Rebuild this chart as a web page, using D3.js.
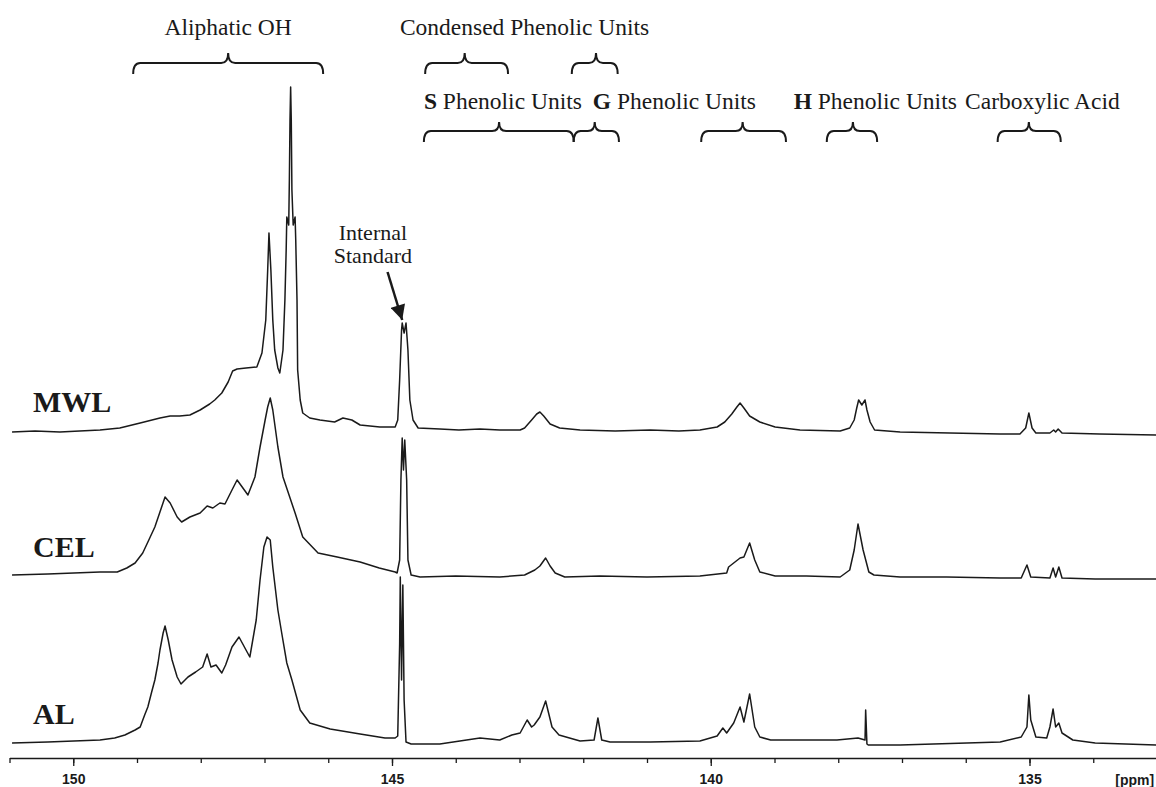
<!DOCTYPE html>
<html>
<head>
<meta charset="utf-8">
<script src="https://cdn.jsdelivr.net/npm/d3@7/dist/d3.min.js"></script>
<style>
  body { margin: 0; background: #fff; }
  svg { display: block; }
</style>
</head>
<body>
<div id="svg-container"></div>
<script>
// Spectrum traces: [ppm, intensity above the trace's own baseline]
var mwlData = [
  [150.96, 0], [150.60, 1], [150.21, 0], [149.90, 1], [149.58, 2], [149.27, 4], [148.95, 9],
  [148.64, 14], [148.48, 16], [148.33, 16], [148.17, 17], [148.01, 22], [147.86, 28],
  [147.78, 32], [147.67, 39], [147.57, 50], [147.50, 61], [147.43, 63], [147.29, 64],
  [147.12, 65], [147.04, 79], [146.98, 112],
  [146.95, 162], [146.93, 199], [146.90, 162], [146.87, 112], [146.84, 82], [146.79, 64],
  [146.76, 59], [146.71, 82], [146.68, 132], [146.66, 182], [146.65, 215], [146.62, 207],
  [146.61, 252], [146.60, 312], [146.59, 345], [146.58, 312], [146.57, 242], [146.55, 207],
  [146.52, 215], [146.51, 192], [146.49, 132], [146.48, 62], [146.44, 32], [146.40, 19],
  [146.29, 14], [146.13, 12], [145.90, 10], [145.77, 14], [145.63, 12], [145.50, 7],
  [145.19, 5], [144.95, 5], [144.91, 12], [144.88, 52], [144.85, 102], [144.84, 109],
  [144.81, 99], [144.78, 109], [144.75, 82], [144.72, 32], [144.67, 12], [144.59, 4],
  [144.25, 3], [143.95, 2], [143.62, 3], [143.31, 2], [142.99, 2], [142.92, 4], [142.81, 12],
  [142.73, 18], [142.68, 20], [142.62, 16], [142.52, 8], [142.37, 4], [142.05, 2],
  [141.50, 1], [140.95, 2], [140.50, 1], [140.17, 2], [139.90, 5], [139.78, 10], [139.67, 18],
  [139.59, 25], [139.54, 29], [139.48, 24], [139.39, 16], [139.23, 10], [138.99, 5],
  [138.60, 2], [137.97, 1], [137.82, 4], [137.75, 12], [137.71, 24], [137.68, 32],
  [137.63, 27], [137.58, 32], [137.55, 22], [137.50, 10], [137.43, 2], [137.03, 0],
  [136.25, -1], [135.46, -2], [135.15, -2], [135.06, 4], [135.01, 19], [134.96, 4],
  [134.90, -1], [134.68, -1], [134.62, 2], [134.59, 0], [134.55, 3], [134.49, -1],
  [133.90, -2], [133.00, -3]
];

var celData = [
  [150.96, 2], [150.40, 3], [149.58, 5], [149.31, 5], [149.16, 9], [149.03, 14],
  [148.91, 24], [148.80, 39], [148.72, 50], [148.64, 65], [148.56, 80], [148.48, 74],
  [148.37, 60], [148.30, 55], [148.17, 60], [148.01, 64], [147.90, 71], [147.81, 69],
  [147.70, 74], [147.62, 73], [147.51, 87], [147.43, 97], [147.35, 90], [147.26, 82],
  [147.15, 100], [147.07, 130], [146.99, 157], [146.95, 170], [146.91, 179], [146.87, 167],
  [146.79, 130], [146.71, 100], [146.52, 64], [146.40, 40], [146.16, 24], [145.86, 20],
  [145.50, 15], [145.20, 9], [144.95, 5], [144.92, 4], [144.88, 17], [144.86, 97],
  [144.84, 139], [144.82, 107], [144.80, 137], [144.77, 97], [144.75, 17], [144.70, 2],
  [144.56, 0], [144.00, 1], [143.31, 0], [142.92, 2], [142.76, 7], [142.68, 11],
  [142.59, 19], [142.52, 11], [142.44, 4], [142.29, 0], [141.74, 1], [141.00, 0],
  [140.17, 1], [139.75, 4], [139.72, 10], [139.54, 19], [139.48, 20], [139.39, 34],
  [139.31, 17], [139.23, 5], [138.99, 1], [138.50, 1], [137.97, 0], [137.82, 7],
  [137.75, 27], [137.69, 53], [137.61, 27], [137.52, 5], [137.44, 2], [137.03, 0],
  [136.30, 0], [135.46, -1], [135.13, -1], [135.04, 12], [134.98, 0], [134.68, -1],
  [134.63, 9], [134.59, 0], [134.54, 10], [134.49, -1], [133.97, -2], [133.00, -2]
];

var alData = [
  [150.96, 1], [150.40, 2], [149.58, 4], [149.35, 6], [149.19, 9], [149.03, 14],
  [148.95, 17], [148.88, 29], [148.83, 37], [148.77, 52], [148.72, 64], [148.67, 81],
  [148.64, 94], [148.59, 111], [148.56, 118], [148.51, 104], [148.45, 84], [148.37, 67],
  [148.31, 60], [148.20, 67], [148.08, 72], [147.97, 77], [147.90, 90], [147.84, 77],
  [147.76, 79], [147.67, 71], [147.61, 79], [147.51, 97], [147.40, 107], [147.29, 94],
  [147.23, 87], [147.13, 124], [147.07, 164], [147.01, 197], [146.96, 207], [146.91, 204],
  [146.87, 177], [146.79, 134], [146.73, 111], [146.65, 81], [146.57, 64], [146.44, 34],
  [146.29, 21], [145.97, 15], [145.50, 10], [145.11, 6], [144.95, 6], [144.91, 8],
  [144.88, 100], [144.87, 167], [144.85, 64], [144.83, 159], [144.81, 44], [144.78, 2],
  [144.70, 0], [144.25, 0], [143.62, 6], [143.31, 4], [143.12, 9], [142.99, 11],
  [142.88, 24], [142.81, 17], [142.77, 19], [142.68, 27], [142.59, 43], [142.49, 17],
  [142.38, 9], [142.05, 3], [141.83, 4], [141.77, 26], [141.71, 4], [141.58, 2],
  [140.95, 2], [140.17, 3], [139.90, 8], [139.81, 16], [139.75, 11], [139.64, 21],
  [139.54, 37], [139.48, 22], [139.39, 50], [139.31, 17], [139.23, 7], [139.06, 4],
  [138.02, 4], [137.69, 6], [137.58, 4], [137.57, 34], [137.55, 0], [137.53, -1],
  [137.03, -1], [135.46, 2], [135.13, 7], [135.04, 17], [135.01, 49], [134.98, 24],
  [134.90, 7], [134.73, 6], [134.68, 17], [134.63, 35], [134.59, 17], [134.54, 21],
  [134.49, 11], [134.32, 4], [133.97, 1], [133.00, -1]
];

// Trace names and vertical offsets (intensity units)
var traceNames = ["MWL", "CEL", "AL"];
var traceOffsets = [326, 181, 14];

// Axis ticks
var majorTicks = [150, 145, 140, 135];
var minorTicks = d3.range(133, 152, 1);

// Region braces: [from ppm, to ppm, tip ppm]
var upperBraces = [[149.06, 146.08, 147.57], [144.48, 143.18, 143.86], [142.18, 141.46, 141.80]];
var lowerBraces = [[144.50, 142.15, 143.32], [142.15, 141.44, 141.82], [140.15, 138.82, 139.50],
                   [138.18, 137.39, 137.77], [135.50, 134.51, 135.01]];

// Region labels: [bold letter, text, anchor ppm]
var upperLabels = [["", "Aliphatic OH", 147.57], ["", "Condensed Phenolic Units", 142.92]];
var lowerLabels = [["S", " Phenolic Units", 144.50], ["G", " Phenolic Units", 141.85],
                   ["H", " Phenolic Units", 138.70], ["", "Carboxylic Acid", 136.01]];

var width = 1156, height = 787;

var x = d3.scaleLinear().domain([151, 133]).range([9.5, 1157]);
var y = d3.scaleLinear().domain([0, 700]).range([758, 58]);

var svg = d3.select("#svg-container").append("svg")
    .attr("width", width)
    .attr("height", height);

var serif = "'Liberation Serif', 'Times New Roman', serif";
var sans = "'Liberation Sans', Arial, sans-serif";
var ink = "#1a1a1a";

// --------------------------------------------------
// Traces
// --------------------------------------------------
var traces = [mwlData, celData, alData];
traces.forEach(function(data, i) {
    var line = d3.line()
        .x(function(d) { return x(d[0]); })
        .y(function(d) { return y(d[1] + traceOffsets[i]); });
    svg.append("path")
        .datum(data)
        .attr("d", line)
        .attr("fill", "none")
        .attr("stroke", ink)
        .attr("stroke-width", 1.5)
        .attr("stroke-linejoin", "round");

    svg.append("text")
        .attr("x", 33)
        .attr("y", y(traceOffsets[i]) - 20)
        .style("font-family", serif)
        .style("font-weight", "bold")
        .style("font-size", "30px")
        .style("fill", ink)
        .text(traceNames[i]);
});

// --------------------------------------------------
// Axis
// --------------------------------------------------
var axisG = svg.append("g").attr("transform", "translate(0," + y(0) + ")");
axisG.call(d3.axisBottom(x).tickValues(minorTicks).tickSize(5).tickSizeOuter(0).tickFormat(""));
axisG.select(".domain").attr("stroke", ink).attr("stroke-width", 1.6);
axisG.selectAll(".tick line").attr("stroke", ink).attr("stroke-width", 1.3);

var majorG = svg.append("g").attr("transform", "translate(0," + y(0) + ")");
majorG.call(d3.axisBottom(x).tickValues(majorTicks).tickSize(8).tickPadding(8).tickFormat(d3.format("d")));
majorG.select(".domain").remove();
majorG.selectAll(".tick line").attr("stroke", ink).attr("stroke-width", 1.3);
majorG.selectAll(".tick text")
    .style("font-family", sans)
    .style("font-weight", "bold")
    .style("font-size", "14px")
    .attr("fill", ink);

svg.append("text")
    .attr("x", x(133.35))
    .attr("y", y(0) + 27)
    .style("text-anchor", "middle")
    .style("font-family", sans)
    .style("font-weight", "bold")
    .style("font-size", "14px")
    .style("fill", ink)
    .text("[ppm]");

// --------------------------------------------------
// Braces and labels
// --------------------------------------------------
function bracePath(b, yTip, yLine, yEnd) {
    var x0 = x(b[0]), x1 = x(b[1]), xt = x(b[2]), r = 7;
    return "M" + x0 + "," + yEnd +
        " Q" + x0 + "," + yLine + " " + (x0 + r) + "," + yLine +
        " L" + (xt - r) + "," + yLine +
        " Q" + xt + "," + yLine + " " + xt + "," + yTip +
        " Q" + xt + "," + yLine + " " + (xt + r) + "," + yLine +
        " L" + (x1 - r) + "," + yLine +
        " Q" + x1 + "," + yLine + " " + x1 + "," + yEnd;
}

svg.selectAll(".brace-upper")
    .data(upperBraces)
    .enter().append("path")
    .attr("class", "brace-upper")
    .attr("d", function(b) { return bracePath(b, 53, 63, 74); })
    .attr("fill", "none")
    .attr("stroke", ink)
    .attr("stroke-width", 2);

svg.selectAll(".brace-lower")
    .data(lowerBraces)
    .enter().append("path")
    .attr("class", "brace-lower")
    .attr("d", function(b) { return bracePath(b, 122, 131, 142); })
    .attr("fill", "none")
    .attr("stroke", ink)
    .attr("stroke-width", 2);

function addLabel(l, yPos, anchor) {
    var t = svg.append("text")
        .attr("x", x(l[2]))
        .attr("y", yPos)
        .style("text-anchor", anchor)
        .style("font-family", serif)
        .style("font-size", "23.5px")
        .style("fill", ink);
    if (l[0]) t.append("tspan").style("font-weight", "bold").text(l[0]);
    t.append("tspan").text(l[1]);
}
upperLabels.forEach(function(l) { addLabel(l, 35, "middle"); });
lowerLabels.forEach(function(l) { addLabel(l, 109, "start"); });

// Internal standard annotation
var isLabel = svg.append("text")
    .style("text-anchor", "middle")
    .style("font-family", serif)
    .style("font-size", "22px")
    .style("fill", ink);
isLabel.append("tspan").attr("x", x(145.30)).attr("y", 240).text("Internal");
isLabel.append("tspan").attr("x", x(145.30)).attr("y", 263).text("Standard");

svg.append("defs").append("marker")
    .attr("id", "arrow")
    .attr("viewBox", "0 0 10 10")
    .attr("refX", 10).attr("refY", 5)
    .attr("markerWidth", 7).attr("markerHeight", 6)
    .attr("markerUnits", "strokeWidth")
    .attr("orient", "auto")
    .append("path")
    .attr("d", "M0,0 L10,5 L0,10 z")
    .attr("fill", ink);

svg.append("line")
    .attr("x1", x(145.07)).attr("y1", 272)
    .attr("x2", x(144.84)).attr("y2", y(traceOffsets[0] + 112))
    .attr("stroke", ink)
    .attr("stroke-width", 2.5)
    .attr("marker-end", "url(#arrow)");
</script>
</body>
</html>
